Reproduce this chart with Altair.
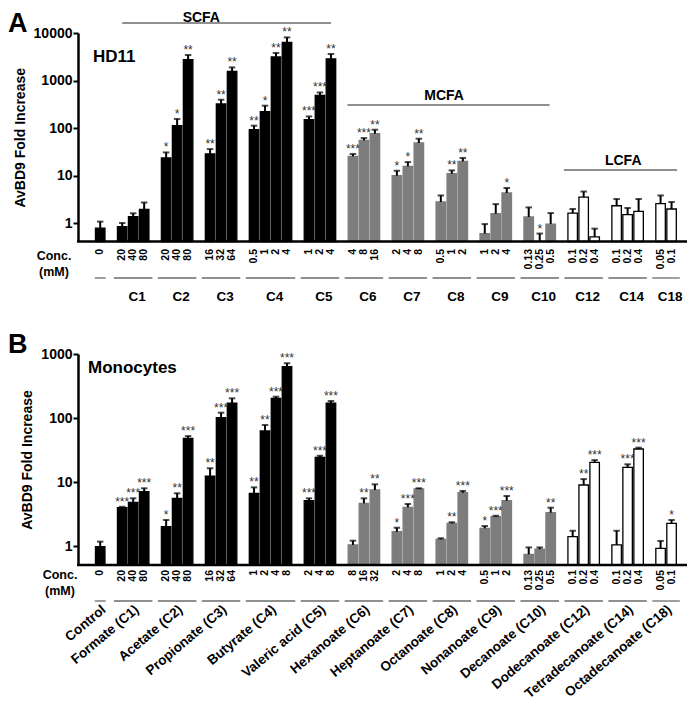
import altair as alt
import pandas as pd

# ---------------- data ----------------
groups = ["Control", "C1", "C2", "C3", "C4", "C5", "C6", "C7", "C8", "C9", "C10", "C12", "C14", "C18"]
labels_A = ["", "C1", "C2", "C3", "C4", "C5", "C6", "C7", "C8", "C9", "C10", "C12", "C14", "C18"]
names_B = ["Control", "Formate (C1)", "Acetate (C2)", "Propionate (C3)", "Butyrate (C4)",
           "Valeric acid (C5)", "Hexanoate (C6)", "Heptanoate (C7)", "Octanoate (C8)",
           "Nonanoate (C9)", "Decanoate (C10)", "Dodecanoate (C12)", "Tetradecanoate (C14)",
           "Octadecanoate (C18)"]
classes = ["ctrl", "scfa", "scfa", "scfa", "scfa", "scfa", "mcfa", "mcfa", "mcfa", "mcfa", "mcfa",
           "lcfa", "lcfa", "lcfa"]

conc_A = [["0"], ["20", "40", "80"], ["20", "40", "80"], ["16", "32", "64"], ["0.5", "1", "2", "4"],
          ["1", "2", "4"], ["4", "8", "16"], ["2", "4", "8"], ["0.5", "1", "2"], ["1", "2", "4"],
          ["0.13", "0.25", "0.5"], ["0.1", "0.2", "0.4"], ["0.1", "0.2", "0.4"], ["0.05", "0.1"]]
mean_A = [[0.78], [0.84, 1.36, 1.94], [23.4, 112, 2740], [28.4, 320, 1550], [92, 220, 3130, 6340],
          [150, 486, 2840], [25.2, 54.8, 75.9], [9.9, 15.5, 48.3], [2.77, 10.9, 19.8], [0.6, 1.57, 4.28],
          [1.34, 0.41, 0.95], [1.62, 3.5, 0.51], [2.31, 1.5, 1.76], [2.55, 1.97]]
upper_A = [[1.07], [1.0, 1.6, 2.7], [30.6, 155, 3440], [36, 394, 1890], [112, 295, 3800, 8080],
           [175, 560, 3610], [28.4, 61.5, 92], [12.6, 19.2, 59.5], [3.8, 12.8, 23.4], [0.95, 2.5, 5.45],
           [2.13, 0.6, 1.62], [1.97, 4.6, 0.76], [3.2, 2.07, 3.2], [3.8, 2.77]]
stars_A = [[""], ["", "", ""], ["*", "*", "**"], ["**", "**", "**"], ["**", "*", "**", "**"],
           ["***", "***", "**"], ["***", "***", "**"], ["*", "*", "**"], ["", "**", "**"], ["", "", "*"],
           ["", "*", ""], ["", "", ""], ["", "", ""], ["", ""]]

conc_B = [["0"], ["20", "40", "80"], ["20", "40", "80"], ["16", "32", "64"], ["1", "2", "4", "8"],
          ["2", "4", "8"], ["8", "16", "32"], ["2", "4", "8"], ["1", "2", "4"], ["0.5", "1", "2"],
          ["0.13", "0.25", "0.5"], ["0.1", "0.2", "0.4"], ["0.1", "0.2", "0.4"], ["0.05", "0.1"]]
mean_B = [[0.98], [3.97, 4.82, 7.06], [2.0, 5.56, 48.2], [12.4, 101, 170], [6.66, 62.6, 203, 634],
          [5.1, 24.3, 170], [1.04, 4.65, 7.5], [1.67, 4.02, 7.77], [1.27, 2.26, 6.8], [1.89, 2.87, 5.1],
          [0.74, 0.89, 3.32], [1.4, 8.98, 20.3], [1.04, 16.9, 32.8], [0.92, 2.26]]
upper_B = [[1.17], [4.1, 5.57, 7.97], [2.55, 6.66, 52.2], [16.4, 121, 203], [8.25, 77.8, 215, 717],
           [5.56, 25.7, 184], [1.21, 5.56, 9.2], [1.93, 4.53, 7.97], [1.32, 2.35, 7.25], [2.05, 2.97, 6.04],
           [0.95, 0.95, 3.97], [1.73, 11.1, 22.0], [1.73, 18.9, 34.4], [1.2, 2.55]]
stars_B = [[""], ["***", "***", "***"], ["*", "**", "***"], ["**", "***", "***"], ["**", "**", "***", "***"],
           ["***", "***", "***"], ["", "**", "**"], ["*", "***", "***"], ["", "**", "***"], ["*", "***", "***"],
           ["", "", "**"], ["", "**", "***"], ["", "***", "***"], ["", "*"]]

# ---------------- layout constants ----------------
FONT = "Liberation Sans"
W, H = 609, 532
SLOT_DOMAIN = [-1.567, 52.95]
DOM_A, RNG_A = [0.408, 10000], [208.5, 0]
DOM_B, RNG_B = [0.505, 1000], [532, 321]


def slot_lists(concs):
    out, s = [], 0
    for i, g in enumerate(concs):
        if i > 0:
            s += 1
        row = []
        for _ in g:
            row.append(s)
            s += 1
        out.append(row)
    return out


def bar_frame(concs, means, uppers, stars):
    sl = slot_lists(concs)
    rows = []
    for gi, g in enumerate(groups):
        for j, c in enumerate(concs[gi]):
            rows.append(dict(group=g, cls=classes[gi], slot=sl[gi][j], conc=c,
                             mean=means[gi][j], upper=uppers[gi][j], star=stars[gi][j]))
    return pd.DataFrame(rows)


def group_frame(concs, labels):
    sl = slot_lists(concs)
    rows = []
    for gi, g in enumerate(groups):
        s0, s1 = sl[gi][0], sl[gi][-1]
        pad = 0.5 if len(sl[gi]) == 1 else 0.75
        rows.append(dict(group=g, label=labels[gi], start=s0 - pad, end=s1 + pad, center=(s0 + s1) / 2))
    return pd.DataFrame(rows)


ONE = pd.DataFrame({"k": [0]})


def X(f):
    return alt.X(f, type="quantitative", scale=alt.Scale(domain=SLOT_DOMAIN, nice=False, zero=False), axis=None)


fill_scale = alt.Scale(domain=["ctrl", "scfa", "mcfa", "lcfa"], range=["#000000", "#000000", "#7d7d7d", "#ffffff"])
stroke_scale = alt.Scale(domain=["ctrl", "scfa", "mcfa", "lcfa"], range=["#000000", "#000000", "#7d7d7d", "#000000"])


def label(txt, x, y, size, align="left", baseline="alphabetic", weight="bold", angle=0):
    return alt.Chart(ONE).mark_text(text=txt, fontSize=size, fontWeight=weight, align=align,
                                    baseline=baseline, font=FONT, angle=angle, color="black").encode(
        x=alt.value(x), y=alt.value(y))


def panel(df, gdf, dom, rng, ticks, conc_y, rule_y):
    yscale = alt.Scale(type="log", domain=dom, range=rng, nice=False)
    yaxis = alt.Axis(values=ticks, format="d", orient="left", title="AvBD9 Fold Increase", grid=False,
                     domainColor="black", domainWidth=2.5, tickColor="black", tickWidth=2, tickSize=5,
                     labelFont=FONT, labelFontSize=14, labelFontWeight="bold", labelColor="black",
                     labelPadding=1, titleFont=FONT, titleFontSize=14, titleFontWeight="bold",
                     titleColor="black", titlePadding=6)
    base = alt.Chart(df)
    bars = base.mark_bar(size=9.5, strokeWidth=1.3).encode(
        x=X("slot"),
        y=alt.Y("mean:Q", scale=yscale, axis=yaxis),
        y2=alt.datum(dom[0]),
        fill=alt.Fill("cls:N", scale=fill_scale, legend=None),
        stroke=alt.Stroke("cls:N", scale=stroke_scale, legend=None),
    )
    err = base.mark_rule(strokeWidth=2, color="black").encode(
        x=X("slot"), y=alt.Y("mean:Q", scale=yscale, axis=None), y2="upper:Q")
    caps = base.mark_tick(orient="horizontal", size=6.5, thickness=2, color="black").encode(
        x=X("slot"), y=alt.Y("upper:Q", scale=yscale, axis=None))
    stars = base.transform_filter("datum.star != ''").mark_text(
        fontSize=12, dy=-1, baseline="alphabetic", color="#333333", font=FONT).encode(
        x=X("slot"), y=alt.Y("upper:Q", scale=yscale, axis=None), text="star:N")
    conc = base.mark_text(angle=270, align="right", baseline="middle", fontSize=10.5,
                          fontWeight="bold", font=FONT, color="black").encode(
        x=X("slot"), y=alt.value(conc_y), text="conc:N")
    xline = alt.Chart(ONE).mark_rule(color="black", strokeWidth=2.5).encode(
        x=alt.value(-1), x2=alt.value(W), y=alt.value(rng[0]))
    grules = alt.Chart(gdf).mark_rule(color="#6b6b6b", strokeWidth=1.3).encode(
        x=X("start"), x2="end:Q", y=alt.value(rule_y))
    return [bars, err, caps, stars, conc, xline, grules]


dfA = bar_frame(conc_A, mean_A, upper_A, stars_A)
dfB = bar_frame(conc_B, mean_B, upper_B, stars_B)
gA = group_frame(conc_A, labels_A)
gB = group_frame(conc_B, names_B)

# panel A extras
glabA = alt.Chart(gA).transform_filter("datum.label != ''").mark_text(
    fontSize=13.5, fontWeight="bold", font=FONT, baseline="middle", dx=4, color="black").encode(
    x=X("center"), y=alt.value(264), text="label:N")
brackets = [("SCFA", 2, 21, 9.2, -10, -15), ("MCFA", 22.5, 40.9, 31.3, 72, 63),
            ("LCFA", 42.2, 52.5, 47.6, 137, 128)]
bracket_layers = []
for name, s0, s1, tx, ly, ty in brackets:
    bracket_layers.append(alt.Chart(ONE).mark_rule(color="#6b6b6b", strokeWidth=1.5).encode(
        x=X("a"), x2="b:Q", y=alt.value(ly)).transform_calculate(a=str(s0), b=str(s1)))
    bracket_layers.append(alt.Chart(ONE).mark_text(text=name, fontSize=14, fontWeight="bold", font=FONT,
                                                  color="black").encode(
        x=X("t"), y=alt.value(ty)).transform_calculate(t=str(tx)))
extraA = [glabA] + bracket_layers + [
    label("A", -70, -1, 27),
    label("HD11", 15, 29, 17),
    label("Conc.", -24, 223, 12.5, align="center", baseline="middle"),
    label("(mM)", -24, 239, 12.5, align="center", baseline="middle"),
]

glabB = alt.Chart(gB).transform_calculate(lx="datum.center + 0.35").mark_text(
    fontSize=13.5, fontWeight="bold", font=FONT, baseline="middle",
    align="right", angle=320, color="black").encode(
    x=X("lx"), y=alt.value(575), text="label:N")
extraB = [glabB,
          label("B", -70, 320, 27),
          label("Monocytes", 10, 340, 17),
          label("Conc.", -18, 542, 12.5, align="center", baseline="middle"),
          label("(mM)", -18, 558, 12.5, align="center", baseline="middle")]

layers = (panel(dfA, gA, DOM_A, RNG_A, [1, 10, 100, 1000, 10000], 216, 245) + extraA
          + panel(dfB, gB, DOM_B, RNG_B, [1, 10, 100, 1000], 537, 568) + extraB)

chart = alt.layer(*layers).resolve_scale(y="independent").properties(
    width=W, height=H,
    padding={"left": 70, "top": 25, "right": 0, "bottom": 140},
    autosize=alt.AutoSizeParams(type="none"),
).configure(font=FONT).configure_view(stroke=None)

chart.save("out.html", embed_options={"renderer": "svg", "actions": False})
